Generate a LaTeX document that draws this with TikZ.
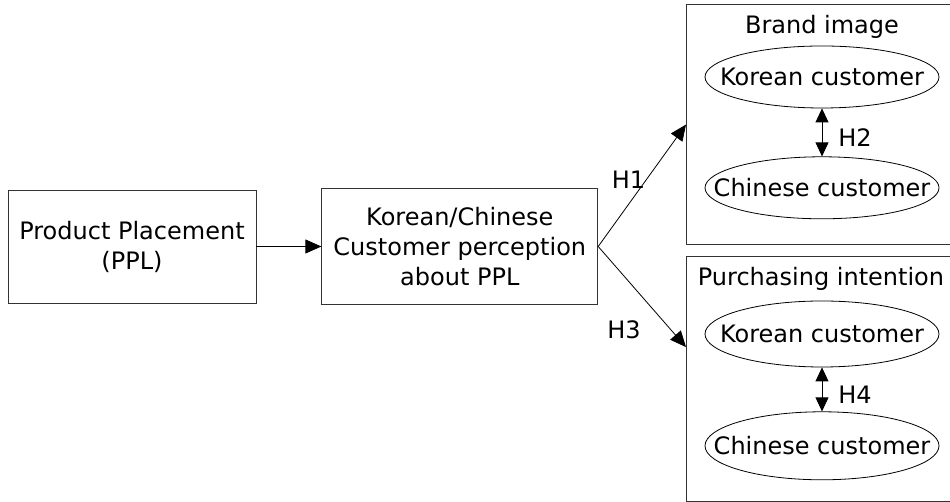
\documentclass[tikz,border=0pt]{standalone}
\usepackage{fontspec}
\setmainfont{DejaVu Sans}
\usetikzlibrary{positioning,shapes.geometric,arrows.meta}

\newcommand{\nowidth}[1]{\makebox[0pt]{#1}}

\begin{document}
\begin{tikzpicture}[x=1pt, y=1pt, line width=0.8pt,
        font=\fontsize{24}{30}\selectfont,
        box/.style={rectangle, draw=black!80, align=center, inner sep=0pt},
        cust/.style={ellipse, draw, inner sep=0pt, minimum width=234pt, minimum height=62pt},
        hyp/.style={inner sep=0pt},
        link/.style={-{Triangle[length=16pt,width=14pt]}},
        both/.style={{Triangle[length=14pt,width=13pt]}-{Triangle[length=14pt,width=13pt]}}]
    \clip (0,0) rectangle (950,502);

    % PPL
    \node[box, minimum width=248pt, minimum height=113pt] (ppl) at (132,255.5) {Product Placement\\(PPL)};

    % Perception
    \node[box, minimum width=276pt, minimum height=116pt, right=65pt of ppl] (percep) {Korean/Chinese\\Customer perception\\about PPL};

    % Brand image
    \node[box, minimum width=290pt, minimum height=240pt, anchor=south west] (brand) at (686,257) {};
    \node[hyp] (brandtitle) at (822,475) {Brand image};
    \node[cust] (korbrand) at (822,425) {\nowidth{Korean customer}};
    \node[cust, below=48pt of korbrand] (chnbrand) {\nowidth{Chinese customer}};

    % Purchasing intention
    \node[box, minimum width=290pt, minimum height=245pt, anchor=south west] (purchase) at (686,0) {};
    \node[hyp] (purchasetitle) at (821,223) {Purchasing intention};
    \node[cust, minimum height=66pt] (korpurch) at (822,168) {\nowidth{Korean customer}};
    \node[cust, minimum height=68pt, below=44pt of korpurch] (chnpurch) {\nowidth{Chinese customer}};
    \coordinate (h3end) at ([yshift=32pt]purchase.west);

    % Connections
    \draw[link] (ppl) -- (percep);
    \draw[link] (percep.east) -- node[hyp, pos=0.55, left=1pt] {H1} (brand.west);
    \draw[link] (percep.east) -- node[hyp, pos=0.83, left=30pt] {H3} (h3end);
    \draw[both] (korbrand) -- node[hyp, right=16pt, yshift=-5pt] {H2} (chnbrand);
    \draw[both] (korpurch) -- node[hyp, right=16pt, yshift=-5pt] {H4} (chnpurch);
\end{tikzpicture}
\end{document}
